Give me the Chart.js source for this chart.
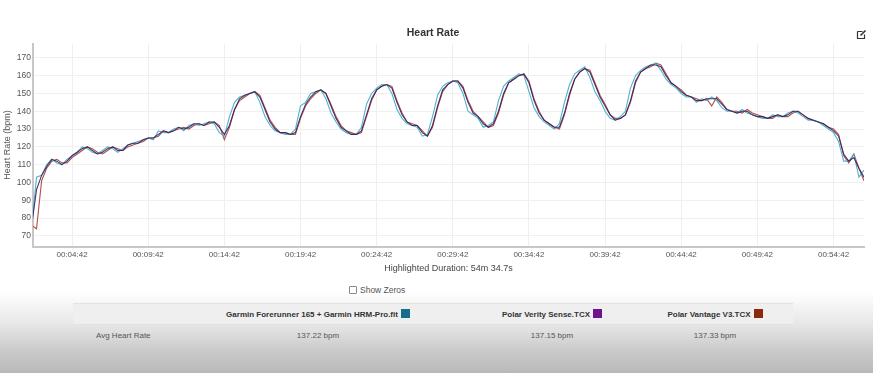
<!DOCTYPE html>
<html>
<head>
<meta charset="utf-8">
<script src="https://cdn.jsdelivr.net/npm/chart.js@4.4.1/dist/chart.umd.min.js"></script>
<style>
  body { margin: 0; width: 873px; height: 373px; overflow: hidden; position: relative;
    font-family: 'Liberation Sans', Arial, sans-serif;
    background: linear-gradient(to bottom, #fff 0, #fff 292px, #e6e6e6 325px, #cbcbcb 350px, #b9b9b9 373px); }
  #hr_chart { position: absolute; left: 0; top: 0; }
  #edit { position: absolute; left: 856px; top: 29px; }
  #zeros { position: absolute; left: 349px; top: 285px; font-size: 8.5px; color: #555; }
  #zeros span.box { display: inline-block; width: 6px; height: 6px; border: 1px solid #888; border-radius: 1px; vertical-align: -1px; margin-right: 3px; background: #fff; }
  table { position: absolute; left: 73px; top: 303px; border-collapse: collapse; font-size: 8px; color: #555; }
  th { background: #efefef; height: 20px; padding: 0; font-weight: bold; color: #333; border-top: 1px solid #e2e2e2; border-bottom: 1px solid #e2e2e2; }
  td { height: 20px; padding: 0; text-align: center; }
  td.lbl { text-align: left; padding-left: 23px; }
  .sq { display: inline-block; width: 9px; height: 9px; vertical-align: -1px; margin-left: 3px; }
</style>
</head>
<body>
<canvas id="hr_chart" width="873" height="276"></canvas>
<svg id="edit" width="11" height="11" viewBox="0 0 11 11">
  <path d="M1.5 2.5h5M1.5 2.5v7h7v-4" fill="none" stroke="#333" stroke-width="1.2"/>
  <path d="M4.5 6.5l5-5" stroke="#333" stroke-width="1.6"/>
</svg>
<div id="zeros"><span class="box"></span>Show Zeros</div>
<table>
  <colgroup><col style="width:96px"><col style="width:298px"><col style="width:170px"><col style="width:156px"></colgroup>
  <tr><th></th>
    <th>Garmin Forerunner 165 + Garmin HRM-Pro.fit<span class="sq" style="background:#166e8c"></span></th>
    <th>Polar Verity Sense.TCX<span class="sq" style="background:#6c138f"></span></th>
    <th>Polar Vantage V3.TCX<span class="sq" style="background:#8d2808"></span></th></tr>
  <tr><td class="lbl">Avg Heart Rate</td><td>137.22 bpm</td><td>137.15 bpm</td><td>137.33 bpm</td></tr>
</table>
<script>
// samples every 20 s, first one at 00:02:02
const sampleStart = 122
const sampleStep = 20

const garmin = [
  74,103,104,110,113,111,110,113,115,117,
  120,119,117,116,118,120,119,117,119,121,
  122,123,124,125,124,129,128,128,130,131,
  129,132,133,132,133,134,133,128,126,137,
  145,148,149,150,151,145,137,132,129,128,
  127,127,130,143,145,150,151,152,147,139,
  134,130,128,127,127,131,144,150,153,155,
  155,150,141,136,133,132,131,126,127,137,
  149,154,156,157,156,150,140,138,136,131,
  132,134,146,154,157,159,161,160,151,142,
  137,134,132,130,133,145,155,161,163,165,
  159,151,146,140,136,135,137,140,153,160,
  163,165,166,167,163,158,155,153,150,148,
  148,145,147,146,148,146,142,140,140,139,
  141,139,138,137,136,136,138,137,137,139,
  140,139,137,135,135,134,132,130,128,123,
  112,112,116,103,107
]
const verity = [
  75,96,104,109,113,112,110,112,115,117,
  119,120,118,116,117,119,120,118,118,121,
  122,122,124,125,125,127,129,128,129,131,
  130,131,133,133,132,134,134,131,127,132,
  141,147,149,150,151,148,141,134,130,128,
  128,127,128,137,144,148,151,152,150,143,
  136,131,129,127,127,129,138,147,152,154,
  155,153,145,138,134,132,132,128,126,132,
  143,152,155,157,157,153,145,139,137,133,
  131,133,140,150,156,158,160,161,156,146,
  139,135,133,131,131,139,150,158,162,164,
  162,155,148,143,138,135,136,138,146,157,
  162,164,166,166,165,160,156,154,151,149,
  148,146,146,147,147,147,144,141,140,139,
  140,140,138,137,137,136,137,138,137,138,
  140,140,138,136,135,134,133,131,129,126,
  116,112,114,108,103
]
const vantage = [
  76,74,101,108,112,113,111,111,114,116,
  118,120,119,117,116,118,120,119,118,120,
  121,122,123,125,125,126,129,128,129,130,
  131,130,132,133,132,133,134,132,124,131,
  141,146,148,150,151,149,142,135,131,128,
  128,127,127,136,143,147,150,152,150,144,
  137,132,129,128,127,128,137,146,152,154,
  155,154,146,139,134,133,132,129,126,131,
  142,151,155,157,157,154,146,140,137,134,
  131,132,139,149,156,158,160,161,157,147,
  140,135,133,131,130,138,149,158,162,164,
  163,156,149,144,138,136,136,138,145,156,
  162,164,165,167,166,161,156,154,152,149,
  148,147,146,147,143,148,145,141,140,140,
  139,141,139,138,137,136,136,138,137,137,
  139,140,138,136,135,134,133,131,130,127,
  115,111,116,108,101
]

const xTickSecs = [282, 582, 882, 1182, 1482, 1782, 2082, 2382, 2682, 2982, 3282]
const xTickLabels = ['00:04:42', '00:09:42', '00:14:42', '00:19:42', '00:24:42', '00:29:42',
  '00:34:42', '00:39:42', '00:44:42', '00:49:42', '00:54:42']
const yTicks = [70, 80, 90, 100, 110, 120, 130, 140, 150, 160, 170]

const fontName = "'Liberation Sans', Arial, sans-serif"

function toPoints(values) {
  return values.map((v, i) => ({ x: sampleStart + i * sampleStep, y: v }))
}

function build_hr_chart() {
  const ctx = document.getElementById('hr_chart')
  new Chart(ctx, {
    type: 'line',
    data: {
      datasets: [
        { label: 'Polar Verity Sense.TCX', data: toPoints(verity), borderColor: 'rgba(55,30,90,0.9)', order: 0 },
        { label: 'Garmin Forerunner 165 + Garmin HRM-Pro.fit', data: toPoints(garmin), borderColor: 'rgba(70,175,200,0.95)', order: 1 },
        { label: 'Polar Vantage V3.TCX', data: toPoints(vantage), borderColor: 'rgba(170,60,55,0.9)', order: 2 }
      ]
    },
    options: {
      responsive: false,
      animation: false,
      devicePixelRatio: 1,
      layout: { padding: { left: 2, right: 9, bottom: 2 } },
      elements: {
        point: { radius: 0 },
        line: { borderWidth: 1.1, tension: 0 }
      },
      plugins: {
        legend: { display: false },
        tooltip: { enabled: false },
        title: {
          display: true,
          text: 'Heart Rate',
          color: '#333',
          font: { family: fontName, size: 10.5, weight: 'bold' },
          padding: { top: 27, bottom: 4 }
        }
      },
      scales: {
        x: {
          type: 'linear',
          min: 128,
          max: 3402,
          afterBuildTicks: axis => { axis.ticks = xTickSecs.map(v => ({ value: v })) },
          ticks: {
            color: '#555',
            font: { family: fontName, size: 8 },
            maxRotation: 0,
            autoSkip: false,
            padding: 3,
            callback: (value, index) => xTickLabels[index]
          },
          grid: { color: '#efefef', drawTicks: false },
          border: { color: '#c8c8c8', width: 2 },
          title: {
            display: true,
            text: 'Highlighted Duration: 54m 34.7s',
            color: '#444',
            font: { family: fontName, size: 9 },
            padding: { top: 1, bottom: 0 }
          }
        },
        y: {
          min: 64,
          max: 178,
          afterBuildTicks: axis => { axis.ticks = yTicks.map(v => ({ value: v })) },
          ticks: {
            color: '#555',
            font: { family: fontName, size: 8.5 },
            padding: 2
          },
          grid: { color: '#f0f0f0', drawTicks: false },
          border: { color: '#c8c8c8', width: 2 },
          title: {
            display: true,
            text: 'Heart Rate (bpm)',
            color: '#555',
            font: { family: fontName, size: 9 },
            padding: { top: 0, bottom: 2 }
          }
        }
      }
    }
  })
}
build_hr_chart()
</script>
</body>
</html>
